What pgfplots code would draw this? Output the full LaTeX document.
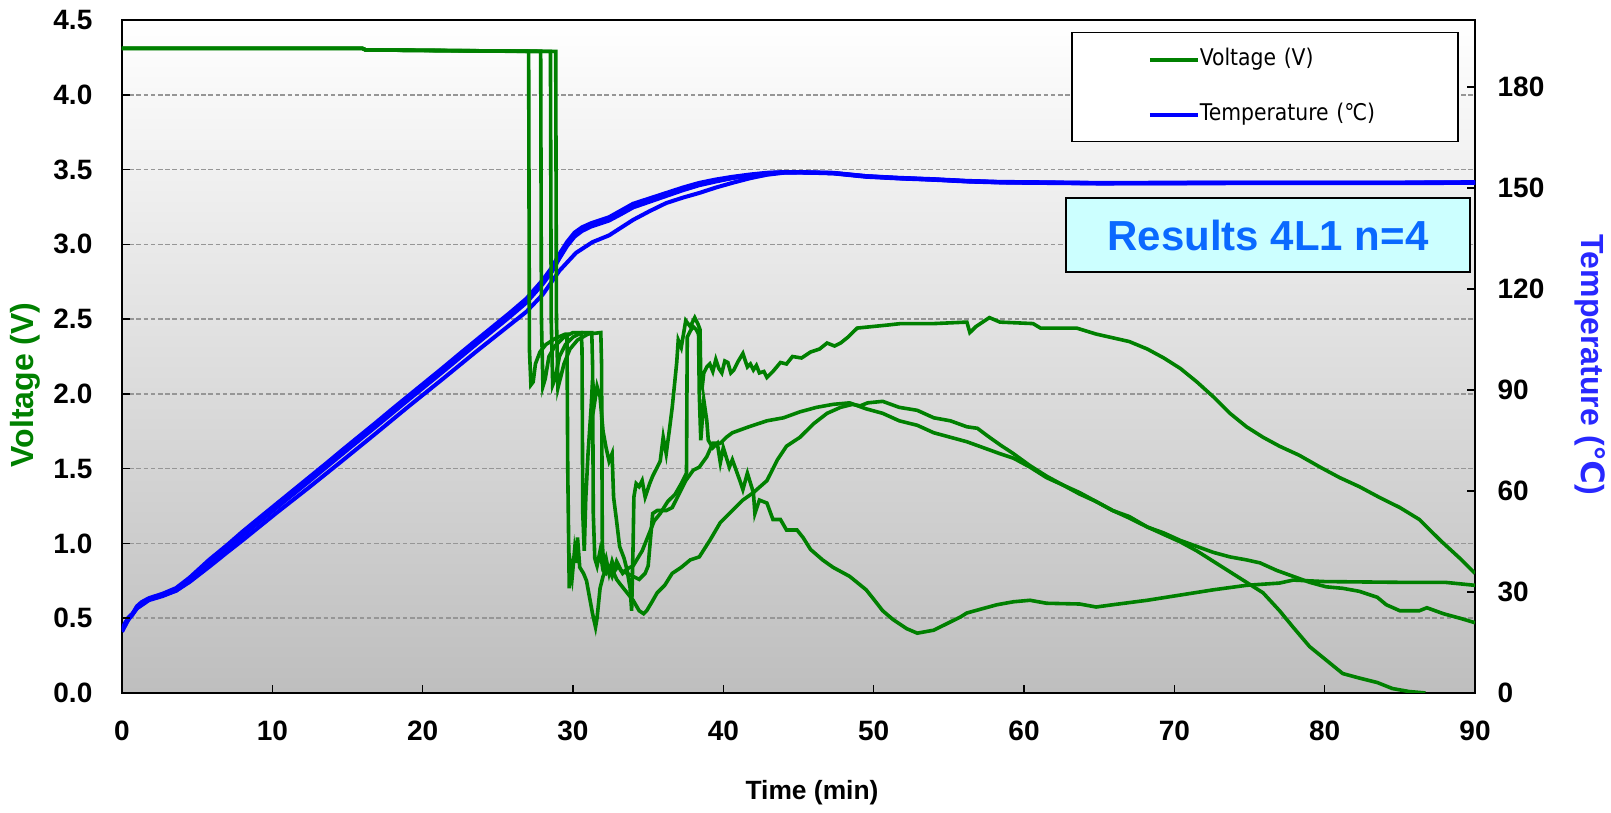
\documentclass[border=0pt]{standalone}
\usepackage{pgfplots}
\pgfplotsset{compat=1.18}
\usepackage{pgfplotstable}
\usepackage{fontspec}
\setmainfont{Liberation Sans}
\newfontfamily\dejavu{DejaVu Sans}
\newfontfamily\legfont[FakeStretch=0.885]{DejaVu Sans}
\definecolor{vgreen}{RGB}{0,128,0}
\definecolor{tblue}{RGB}{0,0,255}
\definecolor{labblue}{RGB}{40,40,255}
\definecolor{bggray}{RGB}{190,190,190}
\definecolor{gridgray}{RGB}{150,150,150}
\definecolor{resblue}{RGB}{10,105,255}
\definecolor{rescyan}{RGB}{204,255,255}

% ---------- Voltage curves ----------
\pgfplotstableread{
t v
0 4.31
16 4.31
16.2 4.30
26.9 4.29
27.05 4.29
27.1 2.3
27.2 2.06
27.35 2.08
27.5 2.2
27.8 2.28
28.2 2.33
28.8 2.37
29.5 2.40
29.6 2.40
29.65 1.5
29.75 0.70
29.85 0.85
29.95 0.78
30.1 0.95
30.2 0.87
30.3 1.04
30.45 0.84
30.7 0.80
30.9 0.75
31.1 0.64
31.3 0.53
31.5 0.44
31.6 0.50
31.8 0.70
32.0 0.78
32.3 0.85
32.6 0.78
32.9 0.88
33.2 0.82
33.6 0.80
34.0 0.78
34.4 0.76
34.8 0.80
35.0 0.85
35.3 1.20
35.6 1.22
36.2 1.22
36.6 1.24
37.1 1.34
37.5 1.42
38.0 1.49
38.4 1.51
38.9 1.58
39.3 1.67
39.8 1.67
40.2 1.71
40.6 1.74
41.7 1.78
42.9 1.82
44.0 1.84
45.1 1.88
46.2 1.91
47.3 1.93
48.4 1.94
49.5 1.90
50.6 1.87
51.7 1.82
52.9 1.79
54.0 1.74
55.1 1.71
56.2 1.68
57.3 1.64
58.4 1.60
59.3 1.57
60.4 1.51
61.5 1.44
62.6 1.39
63.7 1.34
64.8 1.28
65.9 1.22
67 1.18
68.2 1.11
69.3 1.07
70.4 1.02
71.5 0.98
72.6 0.94
73.7 0.91
74.8 0.89
75.7 0.87
76.8 0.82
77.9 0.78
79 0.74
80.1 0.71
81.2 0.70
82.3 0.68
83.5 0.64
84.1 0.59
85 0.55
86.3 0.55
86.8 0.57
87.9 0.53
89 0.50
90 0.47
}\VA

\pgfplotstableread{
t v
0 4.31
16 4.31
16.2 4.30
27.8 4.29
27.85 4.29
27.9 2.5
28.0 2.05
28.15 2.1
28.4 2.25
28.8 2.32
29.4 2.38
30.0 2.41
30.55 2.41
30.6 2.3
30.65 1.2
30.75 0.95
30.85 1.3
31.0 1.6
31.2 1.9
31.3 2.09
31.45 1.95
31.6 2.05
31.8 1.98
32.0 1.75
32.2 1.64
32.4 1.55
32.6 1.60
32.7 1.31
32.9 1.15
33.1 0.98
33.4 0.90
33.6 0.82
33.8 0.70
33.9 0.55
34.0 1.0
34.05 1.31
34.2 1.40
34.4 1.38
34.6 1.42
34.8 1.31
35.1 1.40
35.3 1.45
35.6 1.51
35.8 1.55
36.0 1.71
36.2 1.60
36.4 1.75
36.6 1.91
36.9 2.21
37.0 2.36
37.2 2.31
37.5 2.49
37.8 2.45
38.1 2.51
38.3 2.47
38.45 2.43
38.5 2.09
38.6 2.05
38.7 2.14
38.9 2.18
39.1 2.20
39.3 2.15
39.5 2.23
39.7 2.17
39.9 2.14
40.1 2.22
40.3 2.21
40.5 2.14
40.7 2.16
41.0 2.22
41.3 2.27
41.6 2.18
41.8 2.20
42.0 2.16
42.2 2.19
42.4 2.14
42.7 2.15
42.9 2.11
43.3 2.15
43.8 2.21
44.2 2.20
44.6 2.25
45.2 2.24
45.8 2.28
46.4 2.30
46.9 2.34
47.4 2.32
47.8 2.34
48.3 2.38
48.9 2.44
49.9 2.45
50.9 2.46
51.8 2.47
54 2.47
56.2 2.48
56.4 2.41
56.8 2.45
57.7 2.51
58.4 2.48
60.6 2.47
61.1 2.44
63.5 2.44
64.8 2.40
67 2.35
68.2 2.30
69.3 2.24
70.4 2.17
71.5 2.08
72.6 1.98
73.7 1.87
74.8 1.78
75.9 1.71
77 1.65
78.3 1.59
79.7 1.51
81 1.44
82.3 1.38
83.6 1.31
85 1.24
86.3 1.16
87.7 1.02
89 0.90
90 0.80
}\VB

\pgfplotstableread{
t v
0 4.31
16 4.31
16.2 4.30
28.45 4.29
28.5 4.29
28.55 2.5
28.65 2.06
28.8 2.10
29.1 2.25
29.5 2.33
30.0 2.38
30.6 2.41
31.25 2.41
31.3 2.2
31.35 1.2
31.45 0.90
31.6 0.85
31.8 0.95
32.0 0.82
32.2 0.80
32.5 0.85
32.9 0.76
33.2 0.72
33.6 0.67
34.0 0.62
34.4 0.55
34.7 0.53
34.9 0.55
35.2 0.60
35.6 0.67
36.1 0.72
36.6 0.80
37.2 0.84
37.8 0.89
38.4 0.91
39.1 1.02
39.8 1.14
40.6 1.22
41.3 1.29
42 1.34
42.9 1.42
43.6 1.56
44.2 1.65
45.1 1.71
46 1.80
46.9 1.87
47.8 1.91
48.6 1.93
49.1 1.92
49.6 1.94
50.6 1.95
51.7 1.91
52.9 1.89
54 1.84
55.1 1.82
56.2 1.78
56.9 1.77
57.7 1.71
58.4 1.66
59.3 1.60
60.4 1.52
61.5 1.45
62.6 1.39
63.7 1.33
64.8 1.28
65.9 1.22
67 1.17
68.2 1.11
69.3 1.06
70.4 1.01
71.5 0.95
72.6 0.88
73.7 0.81
74.8 0.74
75.9 0.67
77 0.55
77.9 0.44
79 0.31
80.1 0.22
81.2 0.13
82.3 0.10
83.5 0.07
84.5 0.03
85.6 0.01
86.7 0.0
}\VC

\pgfplotstableread{
t v
0 4.31
16 4.31
16.2 4.30
28.8 4.29
28.85 4.29
28.9 2.5
29.0 2.04
29.15 2.10
29.4 2.20
29.8 2.30
30.3 2.36
31.0 2.40
31.85 2.41
31.9 2.2
31.95 1.0
32.05 0.85
32.2 0.90
32.4 0.80
32.6 0.88
32.8 0.82
33.0 0.85
33.3 0.80
33.6 0.83
34.0 0.85
34.3 0.90
34.6 0.95
35.0 1.05
35.4 1.15
35.8 1.20
36.3 1.28
36.8 1.33
37.2 1.40
37.55 1.47
37.6 2.38
37.8 2.42
38.0 2.45
38.2 2.43
38.35 2.40
38.4 2.0
38.5 1.69
38.7 1.96
38.9 1.82
39.0 1.69
39.3 1.64
39.6 1.67
39.8 1.54
40.0 1.64
40.4 1.51
40.6 1.56
41.1 1.42
41.3 1.36
41.6 1.47
42.0 1.34
42.1 1.20
42.4 1.29
42.9 1.27
43.3 1.16
43.8 1.16
44.2 1.09
44.9 1.09
45.3 1.04
45.8 0.96
46.6 0.89
47.3 0.84
48.4 0.78
49.5 0.69
49.9 0.64
50.6 0.55
51.3 0.49
52.2 0.43
52.9 0.40
54 0.42
55 0.47
55.8 0.51
56.2 0.535
57.1 0.56
58.2 0.59
59.3 0.61
60.4 0.62
61.5 0.60
63.7 0.595
64.8 0.575
65.9 0.59
68.2 0.62
70.4 0.655
72.6 0.69
74.8 0.72
77 0.735
77.9 0.755
80 0.745
85 0.74
88 0.74
90 0.72
}\VD

% ---------- Temperature curves ----------
\pgfplotstableread{
t T
0 18.5
0.2 20.5
0.4 22.3
0.7 23.6
1.0 25.8
1.3 27.0
1.8 28.2
2.7 29.5
3.6 31.2
4.5 34.3
5.8 39.6
7 44.0
8 47.9
9.2 52.3
10.3 56.3
11.4 60.3
12.5 64.3
13.6 68.3
14.7 72.4
15.8 76.4
16.9 80.4
18 84.5
19.1 88.5
20.2 92.5
21.3 96.5
22.4 100.6
23.6 105.0
24.7 109.0
25.8 113.0
26.9 117.2
28 122.8
28.6 126.5
29.1 130.5
29.6 134.0
30.1 136.8
30.6 138.4
31.2 139.6
31.8 140.5
32.4 141.4
33.2 143.4
34 145.4
35.1 147.0
36.2 148.6
37.3 150.2
38.4 151.6
39.5 152.6
40.6 153.4
41.8 154.1
42.9 154.6
44 154.8
45.1 154.8
47.3 154.6
49.5 153.6
51.7 153.1
54 152.7
56.2 152.2
58.4 151.9
65 151.6
75 151.7
85 151.7
90 151.8
}\TA

\pgfplotstableread{
t T
0 18.8
0.2 20.8
0.4 22.0
0.7 23.3
1.0 25.5
1.3 26.7
1.8 28.0
2.7 29.2
3.6 30.8
4.5 33.8
5.8 39.0
7 43.4
8 47.3
9.2 51.7
10.3 55.7
11.4 59.7
12.5 63.7
13.6 67.7
14.7 71.8
15.8 75.8
16.9 79.8
18 83.9
19.1 87.9
20.2 91.9
21.3 95.9
22.4 100.0
23.6 104.4
24.7 108.4
25.8 112.4
26.9 116.6
28 122.2
28.6 125.9
29.1 129.9
29.6 133.4
30.1 136.2
30.6 137.8
31.2 139.0
31.8 139.9
32.4 140.8
33.2 142.8
34 144.8
35.1 146.4
36.2 148.0
37.3 149.7
38.4 151.1
39.5 152.2
40.6 153.1
41.8 153.9
42.9 154.5
44 154.7
45.1 154.7
47.3 154.4
49.5 153.4
51.7 152.9
54 152.5
56.2 152.0
58.4 151.7
65 151.4
75 151.5
85 151.5
90 151.6
}\TB

\pgfplotstableread{
t T
0 18.2
0.4 21.6
1.0 25.2
1.8 27.8
2.7 29.0
3.6 30.4
4.5 33.3
5.8 38.4
8 46.7
10.3 55.1
12.5 63.1
14.7 71.2
16.9 79.2
19.1 87.3
21.3 95.3
23.6 103.8
25.8 111.8
26.9 116.0
28 121.6
28.6 125.2
29.1 129.2
29.6 132.8
30.1 135.6
30.6 137.3
31.2 138.6
31.8 139.5
32.4 140.4
33.2 142.3
34 144.3
35.1 146.0
36.2 147.7
37.3 149.4
38.4 150.9
39.5 152.0
40.6 153.0
41.8 153.8
42.9 154.4
44 154.7
45.1 154.7
47.3 154.5
49.5 153.5
51.7 153.0
54 152.6
56.2 152.1
58.4 151.8
65 151.5
75 151.6
85 151.6
90 151.7
}\TC

\pgfplotstableread{
t T
0 18.5
0.4 21.8
1.0 25.2
1.8 27.6
2.7 28.8
3.6 30.4
4.5 33.0
5.8 37.5
7 41.8
8 45.3
10.3 53.6
12.5 61.3
14.7 69.2
16.9 77.2
19.1 85.3
21.3 93.2
23.6 101.6
25.8 109.4
26.9 113.3
28 118.5
29.1 125.5
30.2 130.8
31.3 134.0
32.4 136.0
33.2 138.3
34 140.6
35.1 143.2
36.2 145.6
37.3 147.2
38.4 148.6
39.5 150.2
40.6 151.6
41.8 153.0
42.9 154.0
44 154.6
45.1 154.7
47.3 154.5
49.5 153.6
51.7 153.0
54 152.6
56.2 152.1
58.4 151.8
65 151.5
75 151.6
85 151.6
90 151.7
}\TD

\begin{document}
\begin{tikzpicture}
% ---------------- Temperature axis (right) ----------------
\begin{axis}[
  at={(0,0)}, anchor=south west, scale only axis,
  width=676.5pt, height=336.5pt,
  xmin=0, xmax=90, ymin=0, ymax=200,
  xtick={0,10,20,30,40,50,60,70,80,90},
  ytick={0,30,60,90,120,150,180},
  xtick pos=lower, ytick pos=right, yticklabel pos=right,
  tick align=inside, major tick length=4pt,
  tick style={black, line width=0.8pt},
  axis line style={black, line width=1pt},
  ticklabel style={font=\bfseries\fontsize{14}{16}\selectfont},
  /pgf/number format/assume math mode=true,
  xticklabel style={yshift=-10.3pt},
  yticklabel style={xshift=7.8pt},
  axis background/.style={top color=white, bottom color=bggray},
  extra y ticks={22.2222,44.4444,66.6667,88.8889,111.1111,133.3333,155.5556,177.7778},
  extra y tick labels={},
  extra y tick style={grid=major, major tick length=0pt},
  grid style={gridgray, line width=0.75pt, dash pattern=on 2.3pt off 1.3pt},
  xlabel={Time (min)},
  xlabel style={font=\bfseries\fontsize{13.2}{15}\selectfont, at={(axis description cs:0.51,-0.1486)}, anchor=center},
  ylabel={Temperature ({\dejavu\bfseries ℃})},
  ylabel style={font=\bfseries\fontsize{16}{18}\selectfont, color=labblue, at={(axis description cs:1.085,0.4874)}, anchor=center, rotate=180},
]
\addplot[tblue, line width=2pt] table[x=t, y=T] {\TD};
\addplot[tblue, line width=2pt] table[x=t, y=T] {\TC};
\addplot[tblue, line width=2pt] table[x=t, y=T] {\TB};
\addplot[tblue, line width=2pt] table[x=t, y=T] {\TA};
\end{axis}

% ---------------- Voltage axis (left) ----------------
\begin{axis}[
  at={(0,0)}, anchor=south west, scale only axis,
  width=676.5pt, height=336.5pt,
  xmin=0, xmax=90, ymin=0, ymax=4.5,
  xtick=\empty, ytick={0,0.5,1,1.5,2,2.5,3,3.5,4,4.5},
  ytick pos=left, tick align=inside, major tick length=4pt,
  tick style={black, line width=0.8pt},
  axis line style={draw=none},
  yticklabel style={/pgf/number format/.cd, fixed, fixed zerofill, precision=1, assume math mode=true, /tikz/.cd, font=\bfseries\fontsize{14}{16}\selectfont, xshift=-11.3pt},
  ylabel={Voltage (V)},
  ylabel style={font=\bfseries\fontsize{16}{18}\selectfont, color=vgreen, at={(axis description cs:-0.0717,0.458)}, anchor=center},
  legend style={at={(axis description cs:0.7014,0.9822)}, anchor=north west,
    draw=black, line width=0.75pt, fill=white,
    inner xsep=38pt, inner ysep=8pt, row sep=16.5pt,
    font=\legfont\fontsize{11.5}{13}\selectfont,
    nodes={inner sep=0pt, text height=8.5pt, text depth=2.5pt, text width=91pt, align=left}},
  legend cell align=left,
  legend image code/.code={\draw[#1] (0pt,0pt) -- (24pt,0pt);},
]
\addplot[vgreen, line width=1.8pt] table[x=t, y=v] {\VA};
\addlegendentry{Voltage (V)}
\addplot[vgreen, line width=1.8pt, forget plot] table[x=t, y=v] {\VB};
\addplot[vgreen, line width=1.8pt, forget plot] table[x=t, y=v] {\VC};
\addplot[vgreen, line width=1.8pt, forget plot] table[x=t, y=v] {\VD};
\addlegendimage{tblue, line width=2pt}
\addlegendentry{Temperature (℃)}
\node[draw=black, line width=1pt, fill=rescyan, minimum width=202pt, minimum height=37pt, inner sep=0pt, font=\bfseries\fontsize{21}{24}\selectfont, text=resblue] at (axis description cs:0.8470,0.6805) {Results 4L1 n=4};
\end{axis}
\pgfresetboundingbox
\path[use as bounding box] (-61pt,-60pt) rectangle (744.5pt,346.5pt);
\end{tikzpicture}
\end{document}
